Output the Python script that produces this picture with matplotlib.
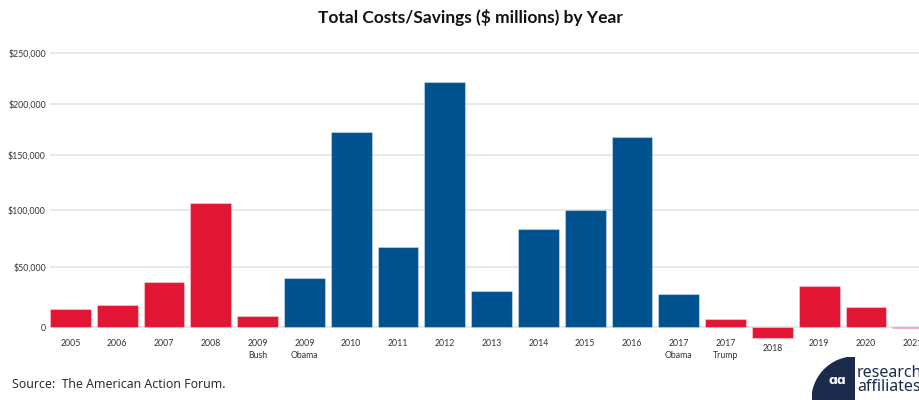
import numpy as np
import matplotlib
matplotlib.use("Agg")
import matplotlib.pyplot as plt
from matplotlib.patches import Wedge
from matplotlib.transforms import ScaledTranslation

# Data ($ millions)
years = ["2005", "2006", "2007", "2008", "2009\nBush", "2009\nObama", "2010", "2011",
         "2012", "2013", "2014", "2015", "2016", "2017\nObama", "2017\nTrump", "2018",
         "2019", "2020", "2021"]
values = [15200, 18500, 37500, 106400, 9100, 41100, 172800, 67500, 221000, 29800,
          82900, 99800, 167600, 27400, 6600, -9100, 34500, 17100, -800]
party = ["R", "R", "R", "R", "R", "D", "D", "D", "D", "D", "D", "D", "D", "D",
         "R", "R", "R", "R", "R"]
yticks = [0, 50000, 100000, 150000, 200000, 250000]

red = "#e31535"
blue = "#00528f"
navy = "#1c2b4b"
colors = [red if p == "R" else blue for p in party]

# the source axis is slightly compressed toward the top; mimic with knots
knot_vals = [-250000, 0, 50000, 100000, 150000, 200000, 250000, 500000]
knot_pos = [-301.5, 0, 60.3, 117.6, 172.3, 223.3, 274.6, 531.1]


def fwd(v):
    return np.interp(v, knot_vals, knot_pos)


def inv(p):
    return np.interp(p, knot_pos, knot_vals)


W, H = 920, 400
fig = plt.figure(figsize=(W / 100, H / 100), dpi=100)

ylo, yhi = -15000, 257500
ax_h = fwd(yhi) - fwd(ylo)
ax_bottom = H - (327.3 + (0 - fwd(ylo)))
ax = fig.add_axes([50 / W, ax_bottom / H, 870 / W, ax_h / H])
ax.set_yscale("function", functions=(fwd, inv))

x = np.arange(len(years))
ax.bar(x, values, width=0.87, color=colors, edgecolor=(1, 1, 1, 0.35),
       linewidth=0.8, zorder=3)

ax.set_xlim(-0.435, 18.155)
ax.set_ylim(ylo, yhi)
ax.set_xticks([])
ax.set_yticks(yticks)
ax.set_yticklabels(["0" if t == 0 else "${:,}".format(t) for t in yticks])
ax.yaxis.set_minor_locator(matplotlib.ticker.NullLocator())
ax.tick_params(axis="y", length=0, pad=3, labelsize=6.3, labelcolor="#333333")
for lab in ax.get_yticklabels():
    lab.set_family("Lato")
ax.yaxis.grid(True, color="#e4e4e4", linewidth=1.2)
ax.set_axisbelow(True)
for s in ax.spines.values():
    s.set_visible(False)

# category labels under the baseline (lower for negative bars)
for i, (lab, v) in enumerate(zip(years, values)):
    drop = 12 if v > -5000 else 17
    off = ScaledTranslation(0, -drop / 100, fig.dpi_scale_trans)
    ax.text(i, 0, lab, transform=ax.transData + off, ha="center", va="top",
            fontsize=6.3, family="Lato", color="#333333", linespacing=1.45)

fig.text(470 / W, 1 - 17 / H, "Total Costs/Savings ($ millions) by Year",
         ha="center", va="center", fontsize=12.5, fontweight="bold",
         family="Lato", color="#111111")

fig.text(12 / W, 1 - 385 / H, "Source:  The American Action Forum.",
         ha="left", va="center", fontsize=8.9, family="Open Sans", color="#222222")

# logo
lax = fig.add_axes([812 / W, 0, 43 / W, 43 / H])
lax.set_xlim(0, 1)
lax.set_ylim(0, 1)
lax.axis("off")
lax.add_patch(Wedge((1, 0), 1, 90, 180, color=navy))
lax.text(0.6, 0.45, "ɑɑ", color="white", fontsize=9, fontweight="bold",
         ha="center", va="center")
fig.text(857 / W, 1 - 377 / H, "research", fontsize=11.5, family="Noto Sans",
         color=navy, va="baseline")
fig.text(857 / W, 1 - 391 / H, "affiliates", fontsize=11.5, family="Noto Sans",
         color=navy, va="baseline")

fig.savefig("out.png", dpi=100)
